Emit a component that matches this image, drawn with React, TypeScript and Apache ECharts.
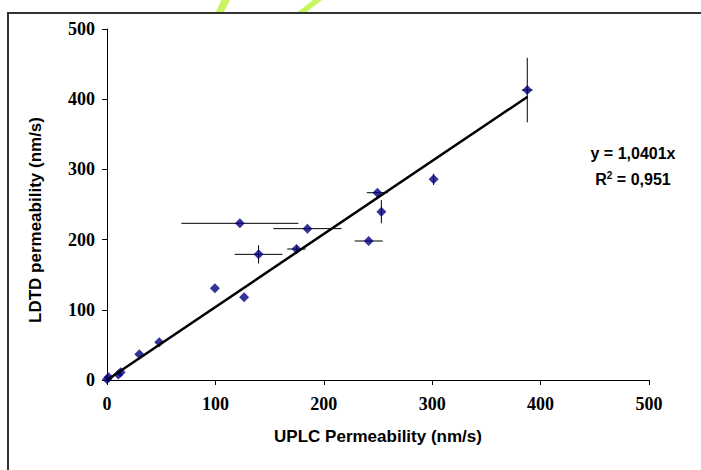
import React, { useEffect, useRef } from "react";
import * as echarts from "echarts";

const uplc = [0, 1.5, 10.5, 12.6, 29.8, 48.2, 99.5, 126.5, 139.8, 174.8, 122.6, 184.9, 241.4, 249.4, 253.1, 301.3, 387.7];
const ldtd = [1, 4, 8, 11, 36.6, 53.7, 130.6, 117.8, 179, 186.6, 223.2, 215.6, 198, 266.8, 239.8, 285.8, 413];
const uplcErr = [0, 0, 0, 0, 0, 0, 0, 0, 22, 8.5, 54, 31.5, 13, 9.7, 0, 0, 5];
const ldtdErr = [0, 0, 0, 0, 0, 0, 0, 0, 13, 5, 0, 0, 0, 0, 16.5, 8, 46];
const slope = 1.0401;
const trendX = [0, 388];
const axisTicks = [0, 100, 200, 300, 400, 500];

export default function App() {
  const ref = useRef<HTMLDivElement>(null);
  useEffect(() => {
    if (!ref.current) return;
    const chart = echarts.init(ref.current, null, { renderer: "svg" });
    const pts = uplc.map((x, i) => [x, ldtd[i]]);
    const errData = uplc.map((x, i) => [x, ldtd[i], uplcErr[i], ldtdErr[i]]);
    const trend = trendX.map((x) => [x, slope * x]);
    const serif = "'Liberation Serif', 'Times New Roman', serif";
    const sans = "'Liberation Sans', Arial, sans-serif";
    chart.setOption({
      animation: false,
      backgroundColor: "#ffffff",
      grid: { left: 107, right: 52, top: 29, bottom: 90, containLabel: false },
      xAxis: {
        type: "value",
        min: axisTicks[0],
        max: axisTicks[axisTicks.length - 1],
        interval: 100,
        splitLine: { show: false },
        axisLine: { show: true, onZero: false, lineStyle: { color: "#000", width: 1 } },
        axisTick: { show: true, length: 5, lineStyle: { color: "#000" } },
        axisLabel: { margin: 15, color: "#000", fontFamily: serif, fontWeight: "bold", fontSize: 18 },
        name: "UPLC Permeability (nm/s)",
        nameLocation: "middle",
        nameGap: 48,
        nameTextStyle: { color: "#000", fontFamily: sans, fontWeight: "bold", fontSize: 17 },
      },
      yAxis: {
        type: "value",
        min: axisTicks[0],
        max: axisTicks[axisTicks.length - 1],
        interval: 100,
        splitLine: { show: false },
        axisLine: { show: true, onZero: false, lineStyle: { color: "#000", width: 1 } },
        axisTick: { show: true, length: 5, lineStyle: { color: "#000" } },
        axisLabel: { margin: 12, color: "#000", fontFamily: serif, fontWeight: "bold", fontSize: 18 },
      },
      graphic: [
        {
          type: "polygon",
          shape: { points: [[221.5, 0], [230, 0], [223.5, 12.5], [215.5, 12.5]] },
          style: { fill: "#c8f560" },
          z: 1,
        },
        {
          type: "polygon",
          shape: { points: [[313, 0], [322, 0], [306, 12.5], [297, 12.5]] },
          style: { fill: "#c8f560" },
          z: 1,
        },
        {
          type: "line",
          shape: { x1: 7, y1: 13, x2: 720, y2: 13 },
          style: { stroke: "#333", lineWidth: 2 },
          z: 2,
        },
        {
          type: "line",
          shape: { x1: 8, y1: 12, x2: 8, y2: 490 },
          style: { stroke: "#333", lineWidth: 2 },
          z: 2,
        },
        {
          type: "text",
          x: 35,
          y: 220,
          rotation: Math.PI / 2,
          style: {
            text: "LDTD permeability (nm/s)",
            fill: "#000",
            font: "bold 17px 'Liberation Sans', Arial, sans-serif",
            align: "center",
            verticalAlign: "middle",
          },
        },
        {
          type: "text",
          x: 633,
          y: 153,
          style: {
            text: "y = 1,0401x",
            fill: "#000",
            font: "bold 16px 'Liberation Sans', Arial, sans-serif",
            align: "center",
            verticalAlign: "middle",
          },
        },
        {
          type: "text",
          x: 633,
          y: 179,
          style: {
            text: "R{sup|2} = 0,951",
            fill: "#000",
            font: "bold 16px 'Liberation Sans', Arial, sans-serif",
            align: "center",
            verticalAlign: "middle",
            rich: {
              sup: {
                font: "bold 10px 'Liberation Sans', Arial, sans-serif",
                fill: "#000",
                verticalAlign: "top",
                padding: [0, 0, 8, 0],
              },
            },
          },
        },
      ],
      series: [
        {
          type: "custom",
          data: errData,
          z: 2,
          renderItem: (params: any, api: any) => {
            const x = api.value(0);
            const y = api.value(1);
            const ex = api.value(2);
            const ey = api.value(3);
            const children: any[] = [];
            const st = { stroke: "#000", lineWidth: 1 };
            if (ex > 0) {
              const a = api.coord([x - ex, y]);
              const b = api.coord([x + ex, y]);
              children.push({ type: "line", shape: { x1: a[0], y1: a[1], x2: b[0], y2: b[1] }, style: st });
            }
            if (ey > 0) {
              const a = api.coord([x, y - ey]);
              const b = api.coord([x, y + ey]);
              children.push({ type: "line", shape: { x1: a[0], y1: a[1], x2: b[0], y2: b[1] }, style: st });
            }
            return { type: "group", children };
          },
        },
        {
          type: "scatter",
          data: pts,
          symbol: "diamond",
          symbolSize: 10,
          z: 3,
          itemStyle: { color: "#000080" },
        },
        {
          type: "line",
          data: trend,
          symbol: "none",
          z: 4,
          lineStyle: { color: "#000", width: 2.5 },
        },
      ],
    });
    return () => chart.dispose();
  }, []);
  return <div ref={ref} style={{ position: "fixed", left: 0, top: 0, width: 701, height: 470 }} />;
}
